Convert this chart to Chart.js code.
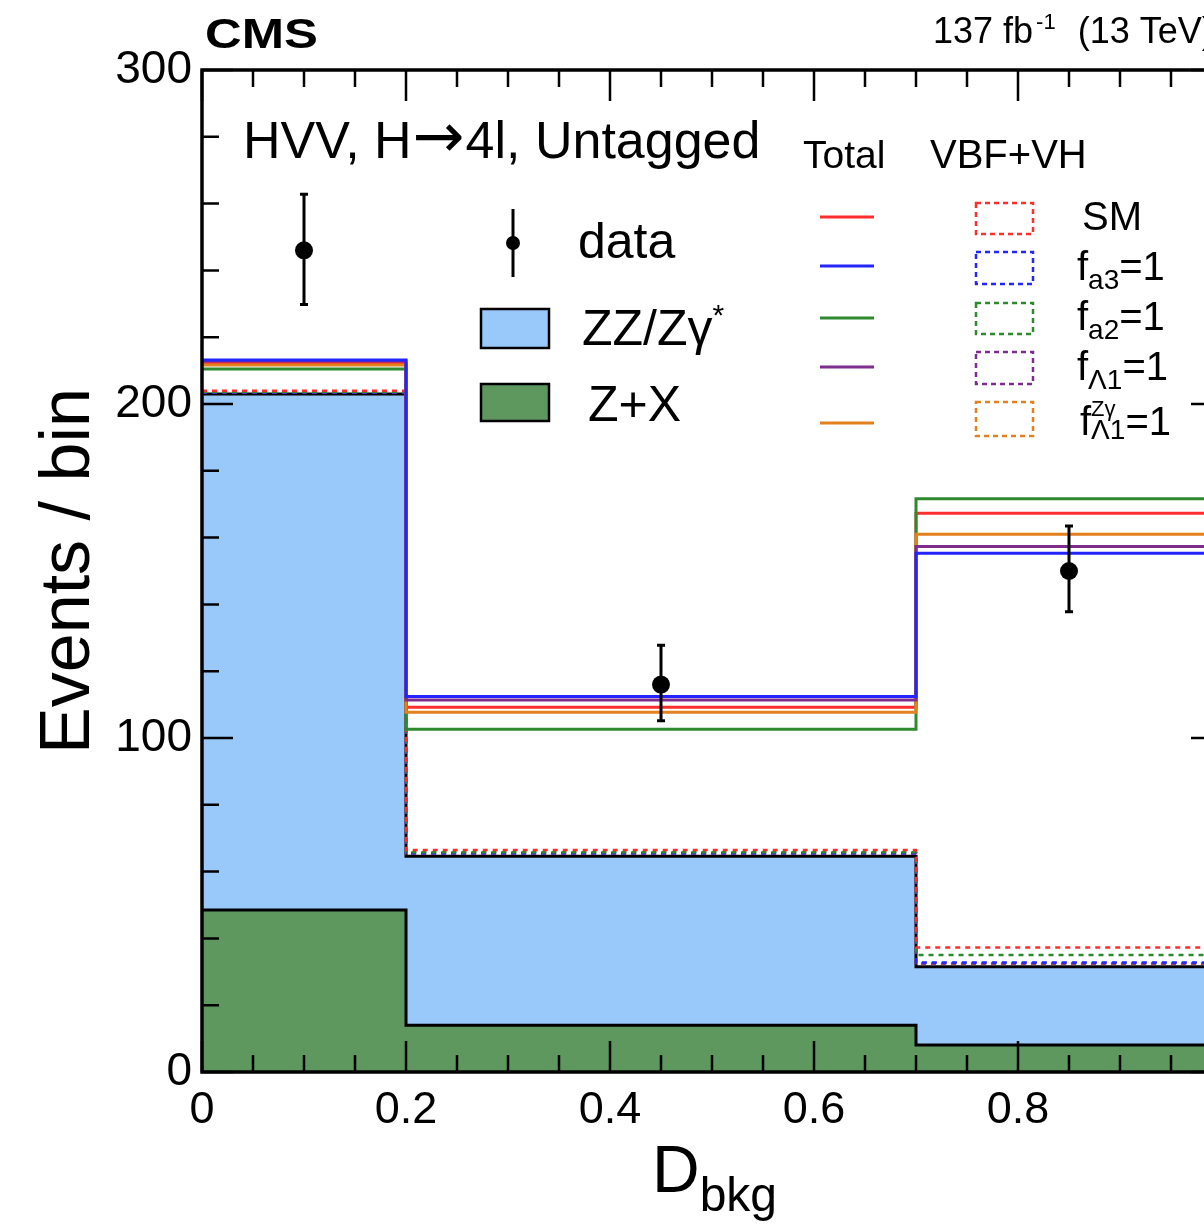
<!DOCTYPE html>
<html>
<head>
<meta charset="utf-8">
<script src="https://cdn.jsdelivr.net/npm/chart.js@4.4.1/dist/chart.umd.min.js"></script>
<style>
html, body { margin: 0; padding: 0; background: #fff; overflow: hidden; }
canvas { display: block; }
</style>
</head>
<body>
<canvas id="myChart" width="1270" height="1225"></canvas>
<script>
// bin edges in D_bkg and the yields per bin
var binEdges = [0, 0.2, 0.7, 1.0];
var zxYield = [48.5, 14.0, 8.1];
var zzYield = [154.5, 50.6, 23.4];

// VBF+VH contribution, stacked on top of the background
var vbfSM = [1.0, 1.9, 5.8];
var vbfFa3 = [0.5, 0.9, 1.3];
var vbfFa2 = [0.7, 1.2, 3.5];
var vbfL1 = [0.4, 0.8, 1.0];
var vbfL1Zg = [0.4, 0.8, 0.9];

// total expectation per hypothesis
var totalSM = [212.3, 109.2, 167.3];
var totalFa3 = [213.2, 112.4, 155.3];
var totalFa2 = [210.5, 102.6, 171.6];
var totalL1 = [212.9, 111.4, 157.3];
var totalL1Zg = [211.7, 107.7, 161.0];

// observed events
var dataCounts = [246, 116, 150];
var dataErrUp = [16.8, 11.8, 13.5];
var dataErrDown = [16.2, 10.8, 12.2];

var xTickValues = [0, 0.2, 0.4, 0.6, 0.8, 1.0];
var xTickLabels = ['0', '0.2', '0.4', '0.6', '0.8', '1'];
var yTickValues = [0, 100, 200, 300];
var yTickLabels = ['0', '100', '200', '300'];

var FONT = '"Liberation Sans", Arial, Helvetica, sans-serif';
var colSM = '#ff2e2e', colFa3 = '#2424ff', colFa2 = '#2f8a2f', colL1 = '#7e2c8e', colL1Zg = '#e5801f';
var fillZZ = '#99c8fa', fillZX = '#5f985f';

var W = 1270, H = 1225;

function stepPoints(values) {
    var pts = [];
    for (var i = 0; i < values.length; i++) {
        pts.push({x: binEdges[i], y: values[i]});
    }
    pts.push({x: binEdges[binEdges.length - 1], y: values[values.length - 1]});
    return pts;
}

function addArr(a, b) {
    return a.map(function(v, i) { return v + b[i]; });
}

var bkgTop = addArr(zxYield, zzYield);
var binCenters = [];
for (var i = 0; i < binEdges.length - 1; i++) {
    binCenters.push((binEdges[i] + binEdges[i + 1]) / 2);
}

function stepLine(label, values, color, width, dash, order) {
    return {
        type: 'line', label: label, data: stepPoints(values),
        borderColor: color, borderWidth: width, borderDash: dash || [],
        stepped: true, pointRadius: 0, fill: false, order: order
    };
}

var datasets = [
    {
        type: 'scatter', label: 'data',
        data: binCenters.map(function(x, i) { return {x: x, y: dataCounts[i]}; }),
        backgroundColor: '#000', borderColor: '#000', pointRadius: 9, borderWidth: 0, order: 0
    },
    stepLine('Total SM', totalSM, colSM, 3, null, 5),
    stepLine('Total fa3', totalFa3, colFa3, 3, null, 1),
    stepLine('Total fa2', totalFa2, colFa2, 3, null, 4),
    stepLine('Total fL1', totalL1, colL1, 3, null, 2),
    stepLine('Total fL1Zg', totalL1Zg, colL1Zg, 3, null, 3),
    stepLine('VBF SM', addArr(bkgTop, vbfSM), colSM, 2.5, [5, 5], 6),
    stepLine('VBF fa2', addArr(bkgTop, vbfFa2), colFa2, 2.5, [5, 5], 7),
    stepLine('VBF fa3', addArr(bkgTop, vbfFa3), colFa3, 2.5, [5, 5], 8),
    stepLine('VBF fL1', addArr(bkgTop, vbfL1), colL1, 2.5, [5, 5], 9),
    stepLine('VBF fL1Zg', addArr(bkgTop, vbfL1Zg), colL1Zg, 2.5, [5, 5], 10),
    {
        type: 'line', label: 'Z+X', data: stepPoints(zxYield), stepped: true,
        borderColor: '#000', borderWidth: 3, backgroundColor: fillZX, fill: 'origin',
        pointRadius: 0, order: 11
    },
    {
        type: 'line', label: 'ZZ', data: stepPoints(bkgTop), stepped: true,
        borderColor: '#000', borderWidth: 3, backgroundColor: fillZZ, fill: 11,
        pointRadius: 0, order: 12
    }
];

// draws a run of text pieces; each piece may be raised or lowered
function drawRich(ctx, x, y, parts) {
    parts.forEach(function(p) {
        ctx.font = (p.bold ? 'bold ' : '') + p.size + 'px ' + (p.family || FONT);
        x += (p.pre || 0);
        ctx.fillText(p.t, x, y + (p.dy || 0));
        if (!p.stay) x += ctx.measureText(p.t).width + (p.gap || 0);
    });
    return x;
}

var cmsPlugin = {
    id: 'cmsDecor',
    beforeDatasetDraw: function(chart, args) {
        if (args.index !== 0) return;
        var ctx = chart.ctx, xs = chart.scales.x, ys = chart.scales.y;
        ctx.save();
        ctx.strokeStyle = '#000';
        ctx.lineWidth = 3;
        for (var i = 0; i < dataCounts.length; i++) {
            var px = xs.getPixelForValue(binCenters[i]);
            var top = ys.getPixelForValue(dataCounts[i] + dataErrUp[i]);
            var bot = ys.getPixelForValue(dataCounts[i] - dataErrDown[i]);
            ctx.beginPath();
            ctx.moveTo(px, top); ctx.lineTo(px, bot);
            ctx.moveTo(px - 4, top); ctx.lineTo(px + 4, top);
            ctx.moveTo(px - 4, bot); ctx.lineTo(px + 4, bot);
            ctx.stroke();
        }
        ctx.restore();
    },
    afterDatasetsDraw: function(chart) {
        var ctx = chart.ctx, a = chart.chartArea, xs = chart.scales.x, ys = chart.scales.y;
        ctx.save();
        ctx.strokeStyle = '#000';
        ctx.lineWidth = 2.5;
        ctx.beginPath();
        for (var k = 0; k <= 20; k++) {
            var v = k * 0.05, len = (k % 4 === 0) ? 31 : 17;
            var px = xs.getPixelForValue(v);
            ctx.moveTo(px, a.bottom); ctx.lineTo(px, a.bottom - len);
            ctx.moveTo(px, a.top); ctx.lineTo(px, a.top + len);
        }
        for (var m = 0; m <= 15; m++) {
            var yv = m * 20, ylen = (m % 5 === 0) ? 31 : 17;
            var py = ys.getPixelForValue(yv);
            ctx.moveTo(a.left, py); ctx.lineTo(a.left + ylen, py);
            ctx.moveTo(a.right, py); ctx.lineTo(a.right - ylen, py);
        }
        ctx.stroke();
        ctx.lineWidth = 3.5;
        ctx.strokeRect(a.left, a.top, a.right - a.left, a.bottom - a.top);
        ctx.restore();
    },
    afterDraw: function(chart) {
        var ctx = chart.ctx;
        ctx.save();
        ctx.fillStyle = '#000';
        ctx.textBaseline = 'alphabetic';
        ctx.textAlign = 'left';

        // CMS label, stretched a bit wider like the logo font
        ctx.save();
        ctx.translate(205, 48);
        ctx.scale(1.21, 1);
        ctx.font = 'bold 42px ' + FONT;
        ctx.fillText('CMS', 0, 0);
        ctx.restore();

        // luminosity
        drawRich(ctx, 933, 43, [
            {t: '137 fb', size: 36},
            {t: '-1', size: 22, dy: -14, pre: 3, gap: 22},
            {t: '(13 TeV)', size: 36}
        ]);

        drawRich(ctx, 243, 158, [
            {t: 'HVV, H', size: 52},
            {t: '\u2192', size: 62, family: '"DejaVu Sans", sans-serif', dy: -1, pre: 1, gap: 1},
            {t: '4l, Untagged', size: 52}
        ]);

        // left legend block
        ctx.strokeStyle = '#000';
        ctx.lineWidth = 3;
        ctx.beginPath();
        ctx.moveTo(513, 209); ctx.lineTo(513, 277);
        ctx.stroke();
        ctx.beginPath();
        ctx.arc(513, 243, 7, 0, Math.PI * 2);
        ctx.fill();
        drawRich(ctx, 578, 258, [{t: 'data', size: 50}]);

        ctx.lineWidth = 2.5;
        ctx.fillStyle = fillZZ;
        ctx.fillRect(481, 309, 68, 39);
        ctx.strokeRect(481, 309, 68, 39);
        ctx.fillStyle = fillZX;
        ctx.fillRect(481, 384, 68, 37);
        ctx.strokeRect(481, 384, 68, 37);
        ctx.fillStyle = '#000';
        drawRich(ctx, 582, 345, [
            {t: 'ZZ/Z\u03b3', size: 50},
            {t: '*', size: 30, dy: -20}
        ]);
        drawRich(ctx, 588, 421, [{t: 'Z+X', size: 50}]);

        // right legend block: totals and VBF+VH
        drawRich(ctx, 803, 168, [{t: 'Total', size: 39}]);
        drawRich(ctx, 930, 168, [{t: 'VBF+VH', size: 40}]);

        var rows = [
            {c: colSM, ly: 217, box: [203, 234]},
            {c: colFa3, ly: 266, box: [252, 284]},
            {c: colFa2, ly: 318, box: [303, 334]},
            {c: colL1, ly: 367, box: [352, 384]},
            {c: colL1Zg, ly: 423, box: [402, 436]}
        ];
        rows.forEach(function(r) {
            ctx.strokeStyle = r.c;
            ctx.setLineDash([]);
            ctx.lineWidth = 3;
            ctx.beginPath();
            ctx.moveTo(820, r.ly); ctx.lineTo(874, r.ly);
            ctx.stroke();
            ctx.setLineDash([5, 4]);
            ctx.lineWidth = 2.5;
            ctx.strokeRect(976, r.box[0], 57, r.box[1] - r.box[0]);
        });
        ctx.setLineDash([]);

        drawRich(ctx, 1082, 230, [{t: 'SM', size: 40}]);
        drawRich(ctx, 1077, 280, [
            {t: 'f', size: 40}, {t: 'a3', size: 28, dy: 9}, {t: '=1', size: 40}
        ]);
        drawRich(ctx, 1077, 330, [
            {t: 'f', size: 40}, {t: 'a2', size: 28, dy: 9}, {t: '=1', size: 40}
        ]);
        drawRich(ctx, 1077, 380, [
            {t: 'f', size: 40}, {t: '\u039b1', size: 28, dy: 9}, {t: '=1', size: 40}
        ]);
        drawRich(ctx, 1080, 435, [
            {t: 'f', size: 40},
            {t: 'Z\u03b3', size: 22, dy: -19, stay: true},
            {t: '\u039b1', size: 28, dy: 4},
            {t: '=1', size: 40}
        ]);

        // x axis title with subscript
        drawRich(ctx, 652, 1192, [
            {t: 'D', size: 66},
            {t: 'bkg', size: 48, dy: 19}
        ]);
        ctx.restore();
    }
};

var ctx = document.getElementById('myChart');
var myChart = new Chart(ctx, {
    data: {datasets: datasets},
    plugins: [cmsPlugin],
    options: {
        responsive: false,
        animation: false,
        layout: {padding: {top: 70, right: W - 1222, left: 0, bottom: 0}},
        plugins: {legend: {display: false}, tooltip: {enabled: false}},
        scales: {
            x: {
                type: 'linear', min: 0, max: 1,
                grid: {display: false}, border: {display: false},
                afterBuildTicks: function(scale) {
                    scale.ticks = xTickValues.map(function(v) { return {value: v}; });
                },
                afterFit: function(scale) { scale.height = H - 1072; },
                ticks: {
                    autoSkip: false, maxRotation: 0, padding: 4, color: '#000',
                    font: {family: FONT, size: 45},
                    callback: function(val, idx) { return xTickLabels[idx]; }
                }
            },
            y: {
                type: 'linear', min: 0, max: 300,
                grid: {display: false}, border: {display: false},
                afterBuildTicks: function(scale) {
                    scale.ticks = yTickValues.map(function(v) { return {value: v}; });
                },
                afterFit: function(scale) { scale.width = 202; },
                ticks: {
                    padding: 2, color: '#000',
                    font: {family: FONT, size: 46},
                    callback: function(val, idx) { return yTickLabels[idx]; }
                },
                title: {
                    display: true, text: 'Events / bin', color: '#000',
                    font: {family: FONT, size: 70}, padding: {top: 28, bottom: 0}
                }
            }
        }
    }
});
</script>
</body>
</html>
